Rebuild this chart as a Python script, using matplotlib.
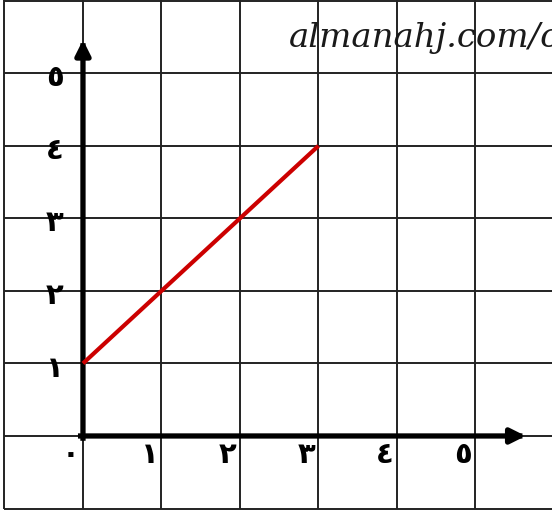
import matplotlib
matplotlib.use("Agg")
import matplotlib.pyplot as plt

# data
x_ticks = [0, 1, 2, 3, 4, 5]
y_ticks = [0, 1, 2, 3, 4, 5]
x_labels = ["٠", "١", "٢", "٣", "٤", "٥"]
y_labels = ["٠", "١", "٢", "٣", "٤", "٥"]
line_x = [0, 3]
line_y = [1, 4]
grid_x = [-1, 0, 1, 2, 3, 4, 5]
grid_y = [-1, 0, 1, 2, 3, 4, 5, 6]
watermark = "almanahj.com/c"

fig = plt.figure(figsize=(5.52, 5.12), dpi=100)
ax = fig.add_axes([0, 0, 1, 1])
xmin, xmax = -1.057, 5.975
ymin, ymax = -1.048, 6.01
ax.set_xlim(xmin, xmax)
ax.set_ylim(ymin, ymax)
ax.set_axis_off()

grid_color = "#222222"
ax.vlines(grid_x, grid_y[0], ymax, color=grid_color, lw=1.4, zorder=1)
ax.hlines(grid_y, grid_x[0], xmax, color=grid_color, lw=1.4, zorder=1)

# axes with arrows
ax.annotate("", xy=(0, 5.46), xytext=(0, -0.03),
            arrowprops=dict(arrowstyle="-|>", lw=3.8, color="black",
                            mutation_scale=22, shrinkA=0, shrinkB=0,
                            capstyle="projecting"), zorder=3)
ax.annotate("", xy=(5.64, 0), xytext=(-0.03, 0),
            arrowprops=dict(arrowstyle="-|>", lw=3.8, color="black",
                            mutation_scale=22, shrinkA=0, shrinkB=0,
                            capstyle="projecting"), zorder=3)

ax.plot(line_x, line_y, color="#cc0000", lw=3.0, solid_capstyle="butt", zorder=4)

for xv, lab in zip(x_ticks, x_labels):
    ax.text(xv - 0.04, -0.26, lab, ha="right", va="center", fontsize=21,
            fontweight="bold", family="DejaVu Sans", color="black", zorder=5)
for yv, lab in zip(y_ticks[1:], y_labels[1:]):
    ax.text(-0.36, yv - 0.07, lab, ha="center", va="center", fontsize=21,
            fontweight="bold", family="DejaVu Sans", color="black", zorder=5)

ax.text(2.62, 5.49, watermark, ha="left", va="center", fontsize=24.5,
        style="italic", family="DejaVu Serif", color="#1a1a1a", zorder=6)

fig.savefig("out.png", dpi=100)
